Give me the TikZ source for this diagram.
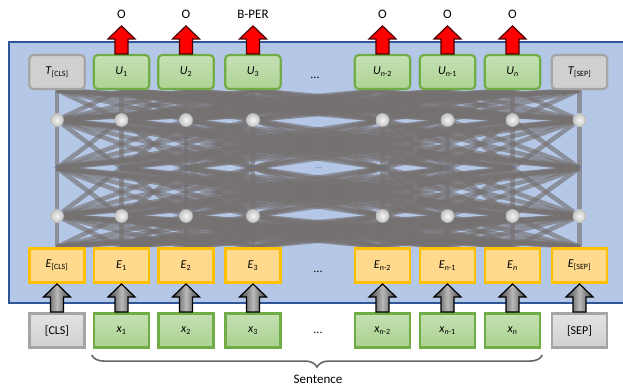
\documentclass[tikz,border=0pt]{standalone}
\usepackage{fontspec}
\setmainfont{Carlito}
\usetikzlibrary{decorations.pathreplacing,calc,backgrounds}
\definecolor{frameblue}{HTML}{2F5597}
\definecolor{framefill}{HTML}{B4C7E7}
\definecolor{linegray}{HTML}{767171}
\definecolor{greenb}{HTML}{70AD47}
\definecolor{greenf}{HTML}{A9D18E}
\definecolor{greenl}{HTML}{C5E0B4}
\definecolor{yelb}{HTML}{FFC000}
\definecolor{yelf}{HTML}{FFD98E}
\definecolor{grayb}{HTML}{A5A5A5}
\definecolor{grayf}{HTML}{D0D0D0}
\definecolor{dotblue}{HTML}{4472C4}
\tikzset{
  boxfont/.style={font=\fontsize{12}{12}\selectfont},
  outbox/.style={boxfont, draw=greenb, line width=2.2pt, rounded corners=4pt, top color=greenl, bottom color=greenf!85!greenl, minimum width=55.5, minimum height=34, inner sep=0},
  outgray/.style={boxfont, draw=grayb, line width=2.2pt, rounded corners=4pt, fill=grayf, minimum width=55.5, minimum height=34, inner sep=0},
  embbox/.style={boxfont, draw=yelb, line width=2.6pt, fill=yelf, minimum width=55, minimum height=34.5, inner sep=0},
  tokbox/.style={boxfont, draw=greenb, line width=2.6pt, top color=greenl, bottom color=greenf, minimum width=55, minimum height=34.5, inner sep=0},
  tokgray/.style={boxfont, draw=grayb, line width=2.6pt, top color=grayf!60, bottom color=grayf, minimum width=55, minimum height=34.5, inner sep=0},
  neuron/.style={circle, draw=gray!55, line width=0.6pt, inner color=white!92!gray, outer color=gray!45, minimum size=13, inner sep=0},
  conn/.style={draw=linegray, line width=4.5pt, opacity=0.65},
  frame/.style={draw=frameblue, line width=2pt, fill=framefill},
  lbl/.style={font=\fontsize{13}{13}\selectfont, text=black},
  ellip/.style={font=\fontsize{12}{12}\selectfont, inner sep=0},
  smalldots/.style={font=\fontsize{8}{8}\selectfont, text=dotblue, inner sep=0},
  redarr/.style={fill=red, draw=red!30!black, line width=1.2pt},
  grayarr/.style={left color=black!75, right color=black!75, middle color=gray!55, draw=black, line width=1.2pt},
  bracestyle/.style={draw=black!60, line width=1.6pt, decorate, decoration={brace, mirror, amplitude=12pt}},
  uparr/.pic={\path[pic actions] (-6.5,0) -- (-6.5,-15) -- (-13.5,-15) -- (0,-28) -- (13.5,-15) -- (6.5,-15) -- (6.5,0) -- cycle;}
}
\begin{document}
\begin{tikzpicture}[x=1pt,y=-1pt]
\useasboundingbox (0,0) rectangle (623,389);
% top row
\node[outgray] (t1) at (57,72) {\textit{T}\textsubscript{[CLS]}};
\node[outbox] (t2) at (121.5,72) {\textit{U}\textsubscript{1}};
\node[outbox] (t3) at (186,72) {\textit{U}\textsubscript{2}};
\node[outbox] (t4) at (253,72) {\textit{U}\textsubscript{3}};
\node[outbox] (t5) at (382.5,72) {\textit{U}\textsubscript{\textit{n}-2}};
\node[outbox] (t6) at (447.5,72) {\textit{U}\textsubscript{\textit{n}-1}};
\node[outbox] (t7) at (512.5,72) {\textit{U}\textsubscript{\textit{n}}};
\node[outgray] (t8) at (579.5,72) {\textit{T}\textsubscript{[SEP]}};
\node[ellip] (td) at (315,78) {...};
% embeddings
\node[embbox] (e1) at (57,265.5) {\textit{E}\textsubscript{[CLS]}};
\node[embbox] (e2) at (121.5,265.5) {\textit{E}\textsubscript{1}};
\node[embbox] (e3) at (186,265.5) {\textit{E}\textsubscript{2}};
\node[embbox] (e4) at (253,265.5) {\textit{E}\textsubscript{3}};
\node[embbox] (e5) at (382.5,265.5) {\textit{E}\textsubscript{\textit{n}-2}};
\node[embbox] (e6) at (447.5,265.5) {\textit{E}\textsubscript{\textit{n}-1}};
\node[embbox] (e7) at (512.5,265.5) {\textit{E}\textsubscript{\textit{n}}};
\node[embbox] (e8) at (579.5,265.5) {\textit{E}\textsubscript{[SEP]}};
\node[ellip] (ed) at (318,272) {...};
% tokens
\node[tokgray] (k1) at (57,330.5) {[CLS]};
\node[tokbox] (k2) at (121.5,330.5) {\textit{x}\textsubscript{1}};
\node[tokbox] (k3) at (186,330.5) {\textit{x}\textsubscript{2}};
\node[tokbox] (k4) at (253,330.5) {\textit{x}\textsubscript{3}};
\node[tokbox] (k5) at (382.5,330.5) {\textit{x}\textsubscript{\textit{n}-2}};
\node[tokbox] (k6) at (447.5,330.5) {\textit{x}\textsubscript{\textit{n}-1}};
\node[tokbox] (k7) at (512.5,330.5) {\textit{x}\textsubscript{\textit{n}}};
\node[tokgray] (k8) at (579.5,330.5) {[SEP]};
\node[ellip] (kd) at (318,333) {...};
% hidden layers
\foreach \i/\x in {1/57,2/121.5,3/186,4/253,5/382.5,6/447.5,7/512.5,8/579.5}{
  \node[neuron] (a\i) at (\x,120) {};
  \node[neuron] (b\i) at (\x,216) {};
  \coordinate (m\i) at (\x,168);
}
\foreach \i in {1,...,8}{ \node[smalldots] (md\i) at (m\i) {...}; }
\node[smalldots] (mdd) at (319,168) {...};
\begin{pgfonlayer}{background}
  \draw[frame] (9,42) rectangle (640,303);
  \foreach \i in {1,...,8}{
    \foreach \j in {1,...,8}{
      \draw[conn] (t\i.south) -- (a\j);
      \draw[conn] (a\i) -- (m\j);
      \draw[conn] (m\i) -- (b\j);
      \draw[conn] (b\i) -- (e\j.north);
    }
  }
\end{pgfonlayer}
% output arrows and labels
\foreach \i in {2,...,7}{ \pic[redarr] at (t\i.north) {uparr}; }
\node[lbl] (o2) at ($(t2.north)+(0,-40)$) {O};
\node[lbl] (o3) at ($(t3.north)+(0,-40)$) {O};
\node[lbl] (o4) at ($(t4.north)+(0,-40)$) {B-PER};
\node[lbl] (o5) at ($(t5.north)+(0,-40)$) {O};
\node[lbl] (o6) at ($(t6.north)+(0,-40)$) {O};
\node[lbl] (o7) at ($(t7.north)+(0,-40)$) {O};
% input arrows
\foreach \i in {1,...,8}{ \pic[grayarr] at (k\i.north) {uparr}; }
% brace
\draw[bracestyle] ($(k2.south west)+(-1,6)$) -- ($(k7.south east)+(1,6)$);
\node[lbl] (sent) at (318,379) {Sentence};
\end{tikzpicture}
\end{document}
